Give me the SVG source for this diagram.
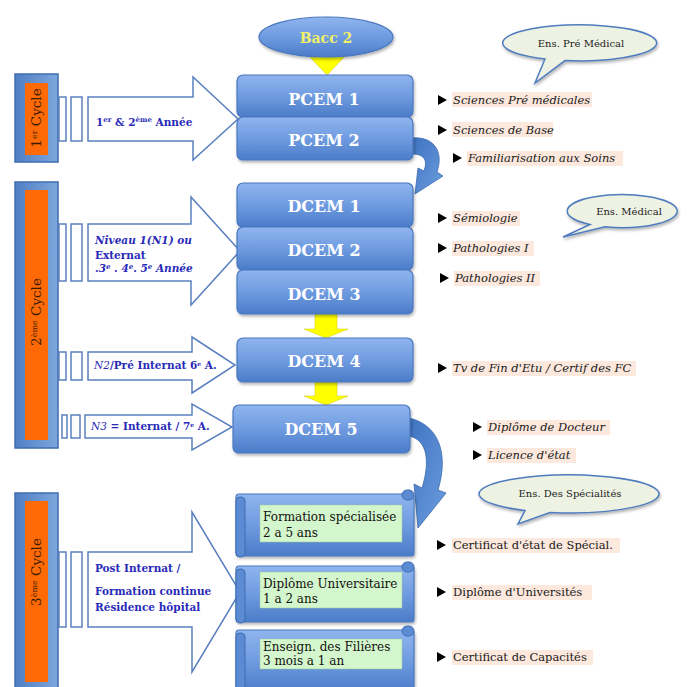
<svg xmlns="http://www.w3.org/2000/svg" width="687" height="687" viewBox="0 0 687 687">
<defs>
<linearGradient id="gBox" x1="0" y1="0" x2="0" y2="1">
<stop offset="0" stop-color="#8fb5ee"/>
<stop offset="0.5" stop-color="#6f9be0"/>
<stop offset="1" stop-color="#4b7cc8"/>
</linearGradient>
<linearGradient id="gCyc" x1="0" y1="0" x2="1" y2="0">
<stop offset="0" stop-color="#4f7fc4"/>
<stop offset="1" stop-color="#7ea6dc"/>
</linearGradient>
<linearGradient id="gCurve" x1="0" y1="0" x2="1" y2="1">
<stop offset="0" stop-color="#3e73bf"/>
<stop offset="1" stop-color="#6c9de0"/>
</linearGradient>
<filter id="sh" x="-10%" y="-10%" width="130%" height="140%">
<feDropShadow dx="1" dy="2" stdDeviation="1.5" flood-color="#000" flood-opacity="0.3"/>
</filter>
</defs>
<style>
.cyc{fill:url(#gCyc);stroke:#3f6db3;stroke-width:1.5}
.org{fill:#ff6a06}
.ctext{font-family:"DejaVu Serif","Liberation Serif",serif;font-size:13.5px;fill:#3b1c00}
.arr{fill:#fff;stroke:#5a80bf;stroke-width:1.5}
.sm{fill:#fff;stroke:#5a80bf;stroke-width:1.5}
.atext{font-family:"DejaVu Serif","Liberation Serif",serif;font-size:10.5px;font-weight:bold;fill:#2a2ab8}
.box{fill:url(#gBox);stroke:#4a77bf;stroke-width:1.2;filter:url(#sh)}
.btext{font-family:"DejaVu Serif","Liberation Serif",serif;font-size:16px;font-weight:bold;fill:#fff;text-anchor:middle}
.yel{fill:#ffff00;stroke:#c8c800;stroke-width:0.5}
.bul{fill:#000}
.hl{fill:#fce8dd}
.ltext{font-family:"DejaVu Serif","Liberation Serif",serif;font-size:11.5px;fill:#1a1a1a}
.it{font-style:italic}
.call{fill:#edf2e3;stroke:#4f7cbe;stroke-width:1.5;filter:url(#sh)}
.calltext{font-family:"DejaVu Serif","Liberation Serif",serif;font-size:10px;fill:#222;text-anchor:middle}
.scroll{fill:url(#gBox);stroke:#4a77bf;stroke-width:1.2;filter:url(#sh)}
.curl{fill:#5c8bd3;stroke:#3f6db3;stroke-width:1}
.green{fill:#d4f6cc;stroke:#9fc79a;stroke-width:0.5}
.stext{font-family:"DejaVu Serif","Liberation Serif",serif;font-size:12px;fill:#111}
</style>

<!-- Cycle bars -->
<g id="cycle1">
<rect class="cyc" x="15" y="74" width="43" height="88"/>
<rect class="org" x="25" y="83" width="23" height="72"/>
<text class="ctext" transform="translate(41,118) rotate(-90)" text-anchor="middle">1<tspan font-size="8" dy="-4">er</tspan><tspan dy="4"> Cycle</tspan></text>
</g>
<g id="cycle2">
<rect class="cyc" x="15" y="182" width="43" height="266"/>
<rect class="org" x="25" y="190" width="23" height="250"/>
<text class="ctext" transform="translate(41,312) rotate(-90)" text-anchor="middle">2<tspan font-size="8" dy="-4">ème</tspan><tspan dy="4"> Cycle</tspan></text>
</g>
<g id="cycle3">
<rect class="cyc" x="15" y="493" width="43" height="200"/>
<rect class="org" x="25" y="501" width="23" height="181"/>
<text class="ctext" transform="translate(41,572) rotate(-90)" text-anchor="middle">3<tspan font-size="8" dy="-4">ème</tspan><tspan dy="4"> Cycle</tspan></text>
</g>

<!-- Big arrows -->
<g id="arrow1">
<rect class="sm" x="59" y="97" width="7" height="44"/>
<rect class="sm" x="71" y="97" width="11" height="44"/>
<path class="arr" d="M88,97 H193 V77 L238,119 L193,160 V141 H88 Z"/>
<text class="atext" x="96" y="126">1<tspan font-size="7" dy="-4">er</tspan><tspan dy="4"> &amp; 2</tspan><tspan font-size="7" dy="-4">ème</tspan><tspan dy="4"> Année</tspan></text>
</g>
<g id="arrow2">
<rect class="sm" x="59" y="224" width="7" height="57"/>
<rect class="sm" x="71" y="224" width="11" height="57"/>
<path class="arr" d="M88,224 H191 V197 L240,251 L191,305 V281 H88 Z"/>
<text class="atext" x="95" y="244" font-style="italic" font-weight="normal">Niveau 1(N1)  ou</text>
<text class="atext" x="95" y="259">Externat</text>
<text class="atext" x="95" y="272" font-style="italic" font-weight="normal"> .3<tspan font-size="7" dy="-3">e</tspan><tspan dy="3"> . 4</tspan><tspan font-size="7" dy="-3">e</tspan><tspan dy="3">. 5</tspan><tspan font-size="7" dy="-3">e</tspan><tspan dy="3"> Année</tspan></text>
</g>
<g id="arrow3">
<rect class="sm" x="59" y="352" width="7" height="28"/>
<rect class="sm" x="71" y="352" width="11" height="28"/>
<path class="arr" d="M88,352 H192 V337 L235,365 L192,393 V380 H88 Z"/>
<text class="atext" x="94" y="369" font-size="8.8"><tspan font-style="italic" font-weight="normal">N2</tspan>/Pré Internat 6<tspan font-size="6" dy="-3">e</tspan><tspan dy="3"> A.</tspan></text>
</g>
<g id="arrow4">
<rect class="sm" x="62" y="415" width="5" height="23"/>
<rect class="sm" x="71" y="415" width="9" height="23"/>
<path class="arr" d="M85,415 H192 V404 L232,427 L192,450 V438 H85 Z"/>
<text class="atext" x="91" y="430" font-size="8.5"><tspan font-style="italic" font-weight="normal">N3</tspan> = Internat / 7<tspan font-size="6" dy="-3">e</tspan><tspan dy="3"> A.</tspan></text>
</g>
<g id="arrow5">
<rect class="sm" x="59" y="552" width="7" height="75"/>
<rect class="sm" x="71" y="552" width="11" height="75"/>
<path class="arr" d="M88,552 H192 V512 L240,592 L192,672 V627 H88 Z"/>
<text class="atext" x="95" y="572" font-weight="normal" font-size="11">Post Internat /</text>
<text class="atext" x="95" y="595" font-size="9.5">Formation continue</text>
<text class="atext" x="95" y="611" font-size="9.5">Résidence hôpital</text>
</g>

<!-- Connectors -->
<g id="connectors">
<polygon class="yel" points="308,55 346,55 327,75"/>
<rect class="yel" x="315" y="116" width="22" height="10"/>
<line x1="306" y1="126" x2="346" y2="126" stroke="#3d67a8" stroke-width="1"/>
<rect class="yel" x="315" y="226" width="22" height="10"/>
<line x1="306" y1="236" x2="346" y2="236" stroke="#3d67a8" stroke-width="1"/>
<rect class="yel" x="315" y="269" width="22" height="10"/>
<line x1="306" y1="279" x2="346" y2="279" stroke="#3d67a8" stroke-width="1"/>
<polygon class="yel" points="315,314 337,314 337,329 348,329 326,338 304,329 315,329"/>
<polygon class="yel" points="315,382 337,382 337,396 348,396 326,405 304,396 315,396"/>
<path d="M412,138 C434,136 444,152 437,172 L443,176 L415,194 L418,168 L424,171 C428,160 424,154 412,154 Z" fill="url(#gCurve)" stroke="#3a6ab0" stroke-width="0.8"/>
<path d="M409,418 C436,424 450,450 438,490 L446,493 L418,528 L414,484 L422,488 C430,462 428,440 409,436 Z" fill="url(#gCurve)" stroke="#3a6ab0" stroke-width="0.8"/>
</g>

<!-- Center boxes -->
<g id="bacc2">
<ellipse cx="326" cy="37" rx="67" ry="20" fill="url(#gBox)" stroke="#4a77bf" stroke-width="1.2" filter="url(#sh)"/>
<text x="326" y="43" font-family="DejaVu Serif, Liberation Serif, serif" font-size="14" font-weight="bold" fill="#f2f06a" text-anchor="middle">Bacc 2</text>
</g>
<g id="pcem1">
<rect class="box" x="237" y="75" width="176" height="42" rx="6"/>
<text class="btext" x="324" y="105">PCEM 1</text>
</g>
<g id="pcem2">
<rect class="box" x="237" y="117" width="176" height="43" rx="6"/>
<text class="btext" x="324" y="146">PCEM 2</text>
</g>
<g id="dcem1">
<rect class="box" x="237" y="183" width="176" height="44" rx="6"/>
<text class="btext" x="324" y="212">DCEM 1</text>
</g>
<g id="dcem2">
<rect class="box" x="237" y="227" width="176" height="43" rx="6"/>
<text class="btext" x="324" y="256">DCEM 2</text>
</g>
<g id="dcem3">
<rect class="box" x="237" y="270" width="176" height="44" rx="6"/>
<text class="btext" x="324" y="300">DCEM 3</text>
</g>
<g id="dcem4">
<rect class="box" x="237" y="338" width="176" height="44" rx="6"/>
<text class="btext" x="324" y="367">DCEM 4</text>
</g>
<g id="dcem5">
<rect class="box" x="233" y="405" width="177" height="48" rx="6"/>
<text class="btext" x="321" y="435">DCEM 5</text>
</g>

<!-- Scroll boxes -->
<g id="formation">
<rect class="scroll" x="236" y="494" width="178" height="62" rx="3"/>
<rect class="curl" x="402" y="490" width="12" height="10" rx="5"/>
<rect class="curl" x="236" y="497" width="9" height="60" rx="4"/>
<rect class="green" x="260" y="505" width="142" height="37"/>
<text class="stext" x="263" y="521">Formation spécialisée</text>
<text class="stext" x="263" y="537">2 a 5 ans</text>
</g>
<g id="diplome">
<rect class="scroll" x="236" y="566" width="178" height="56" rx="3"/>
<rect class="curl" x="402" y="562" width="12" height="10" rx="5"/>
<rect class="curl" x="236" y="569" width="9" height="54" rx="4"/>
<rect class="green" x="260" y="572" width="142" height="36"/>
<text class="stext" x="263" y="588">Diplôme Universitaire</text>
<text class="stext" x="263" y="603">1 a 2 ans</text>
</g>
<g id="enseign">
<rect class="scroll" x="236" y="630" width="178" height="62" rx="3"/>
<rect class="curl" x="402" y="626" width="12" height="10" rx="5"/>
<rect class="curl" x="236" y="633" width="9" height="60" rx="4"/>
<rect class="green" x="260" y="639" width="142" height="30"/>
<text class="stext" x="263" y="651" font-size="11">Enseign. des Filières</text>
<text class="stext" x="263" y="665" font-size="11">3 mois a 1 an</text>
</g>

<!-- Callouts -->
<g id="ens-pre-medical">
<path class="call" d="M545,59 A77,18 0 1 1 565,60.6 L535,83 Z"/>
<text class="calltext" x="581" y="47">Ens. Pré Médical</text>
</g>
<g id="ens-medical">
<path class="call" d="M590,224.5 A55,16.5 0 1 1 605,226.8 L563,237 Z"/>
<text class="calltext" x="629" y="215">Ens. Médical</text>
</g>
<g id="ens-specialites">
<path class="call" d="M525,510.5 A90,19 0 1 1 550,512.5 L518,524 Z"/>
<text class="calltext" x="570" y="497" font-size="9.5">Ens. Des Spécialités</text>
</g>

<!-- Right side lists -->
<g id="list1">
<rect class="hl" x="452" y="92" width="140" height="15"/>
<polygon class="bul" points="438,95 447,100 438,105"/>
<text class="ltext it" x="453" y="104">Sciences Pré médicales</text>
<rect class="hl" x="452" y="122" width="101" height="15"/>
<polygon class="bul" points="438,125 447,130 438,135"/>
<text class="ltext it" x="453" y="134">Sciences de Base</text>
<rect class="hl" x="467" y="151" width="156" height="15"/>
<polygon class="bul" points="453,153 462,158 453,163"/>
<text class="ltext it" x="468" y="162">Familiarisation aux Soins</text>
</g>
<g id="list2">
<rect class="hl" x="452" y="211" width="68" height="15"/>
<polygon class="bul" points="438,213 447,218 438,223"/>
<text class="ltext it" x="453" y="222">Sémiologie</text>
<rect class="hl" x="452" y="241" width="82" height="15"/>
<polygon class="bul" points="438,243 447,248 438,253"/>
<text class="ltext it" x="453" y="252">Pathologies I</text>
<rect class="hl" x="454" y="271" width="86" height="15"/>
<polygon class="bul" points="440,273 449,278 440,283"/>
<text class="ltext it" x="455" y="282">Pathologies II</text>
<rect class="hl" x="452" y="361" width="184" height="15"/>
<polygon class="bul" points="438,363 447,368 438,373"/>
<text class="ltext it" x="453" y="372">Tv de Fin d'Etu / Certif des FC</text>
</g>
<g id="list3">
<rect class="hl" x="487" y="420" width="123" height="15"/>
<polygon class="bul" points="473,422 482,427 473,432"/>
<text class="ltext it" x="488" y="431">Diplôme de Docteur</text>
<rect class="hl" x="487" y="448" width="89" height="15"/>
<polygon class="bul" points="473,450 482,455 473,460"/>
<text class="ltext it" x="488" y="459">Licence d'état</text>
</g>
<g id="list4">
<rect class="hl" x="452" y="538" width="168" height="15"/>
<polygon class="bul" points="437,540 446,545 437,550"/>
<text class="ltext" x="453" y="549">Certificat d'état de Spécial.</text>
<rect class="hl" x="452" y="585" width="140" height="15"/>
<polygon class="bul" points="437,587 446,592 437,597"/>
<text class="ltext" x="453" y="596">Diplôme d'Universités</text>
<rect class="hl" x="452" y="650" width="141" height="15"/>
<polygon class="bul" points="437,652 446,657 437,662"/>
<text class="ltext" x="453" y="661">Certificat de Capacités</text>
</g>
</svg>
